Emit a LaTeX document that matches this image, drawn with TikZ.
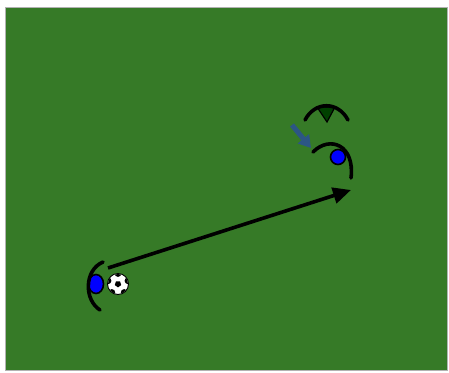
\documentclass[tikz,border=0pt]{standalone}
\usetikzlibrary{arrows.meta,positioning,calc,shapes.geometric}
\definecolor{turf}{RGB}{54,122,39}
\definecolor{runblue}{RGB}{44,86,132}

\begin{document}
\begin{tikzpicture}[x=1pt,y=-1pt,>=Triangle,
  pitch/.style={fill=turf,draw=gray!60,line width=0.6pt},
  body/.style={ellipse,fill=blue,draw=black,line width=1.6pt,inner sep=0pt},
  shoulders/.style={line width=3.6pt,black,line cap=round},
  pass/.style={line width=3.6pt,black,arrows={-Triangle[length=18pt,width=16pt]}},
  run/.style={line width=5pt,runblue,arrows={-Triangle[length=12pt,width=14pt]}},
]
\useasboundingbox (0,0) rectangle (449,372);
\fill[pitch] (5,7) rectangle (447,370);

% passer with the ball
\node[body,minimum width=15pt,minimum height=19pt] (passer) at (96,284) {};
\draw[shoulders] (103,262) .. controls (84,270) and (84,300) .. (100,310);
\node[circle,fill=white,draw=black,line width=0.9pt,minimum size=21pt,inner sep=0pt] (ball) at (118,284) {};
\begin{scope}
  \clip (ball.center) circle (10);
  \fill[black] (ball.center) +(90:3.4) -- +(162:3.4) -- +(234:3.4) -- +(306:3.4) -- +(18:3.4) -- cycle;
  \foreach \a in {18,90,162,234,306}
    \fill[black] ($(ball.center)+(-\a:10.5)$) circle (3.4);
\end{scope}

% receiver
\node[body,circle,minimum size=15pt] (receiver) at (338,157) {};
\draw[shoulders] (313,152) .. controls (330,135) and (355,145) .. (351,178);

% defender
\draw[black,line width=1.2pt,fill=green!25!black] (317,107) -- (335,107) -- (327,122) -- cycle;
\draw[shoulders] (305,120) .. controls (315,101) and (338,101) .. (348,120);

\coordinate (passfrom) at (108,268);
\coordinate (passto) at (351,190);
\draw[pass] (passfrom) -- (passto);

\coordinate (runfrom) at (292,125);
\coordinate (runto) at (311,148);
\draw[run] (runfrom) -- (runto);

\end{tikzpicture}
\end{document}
